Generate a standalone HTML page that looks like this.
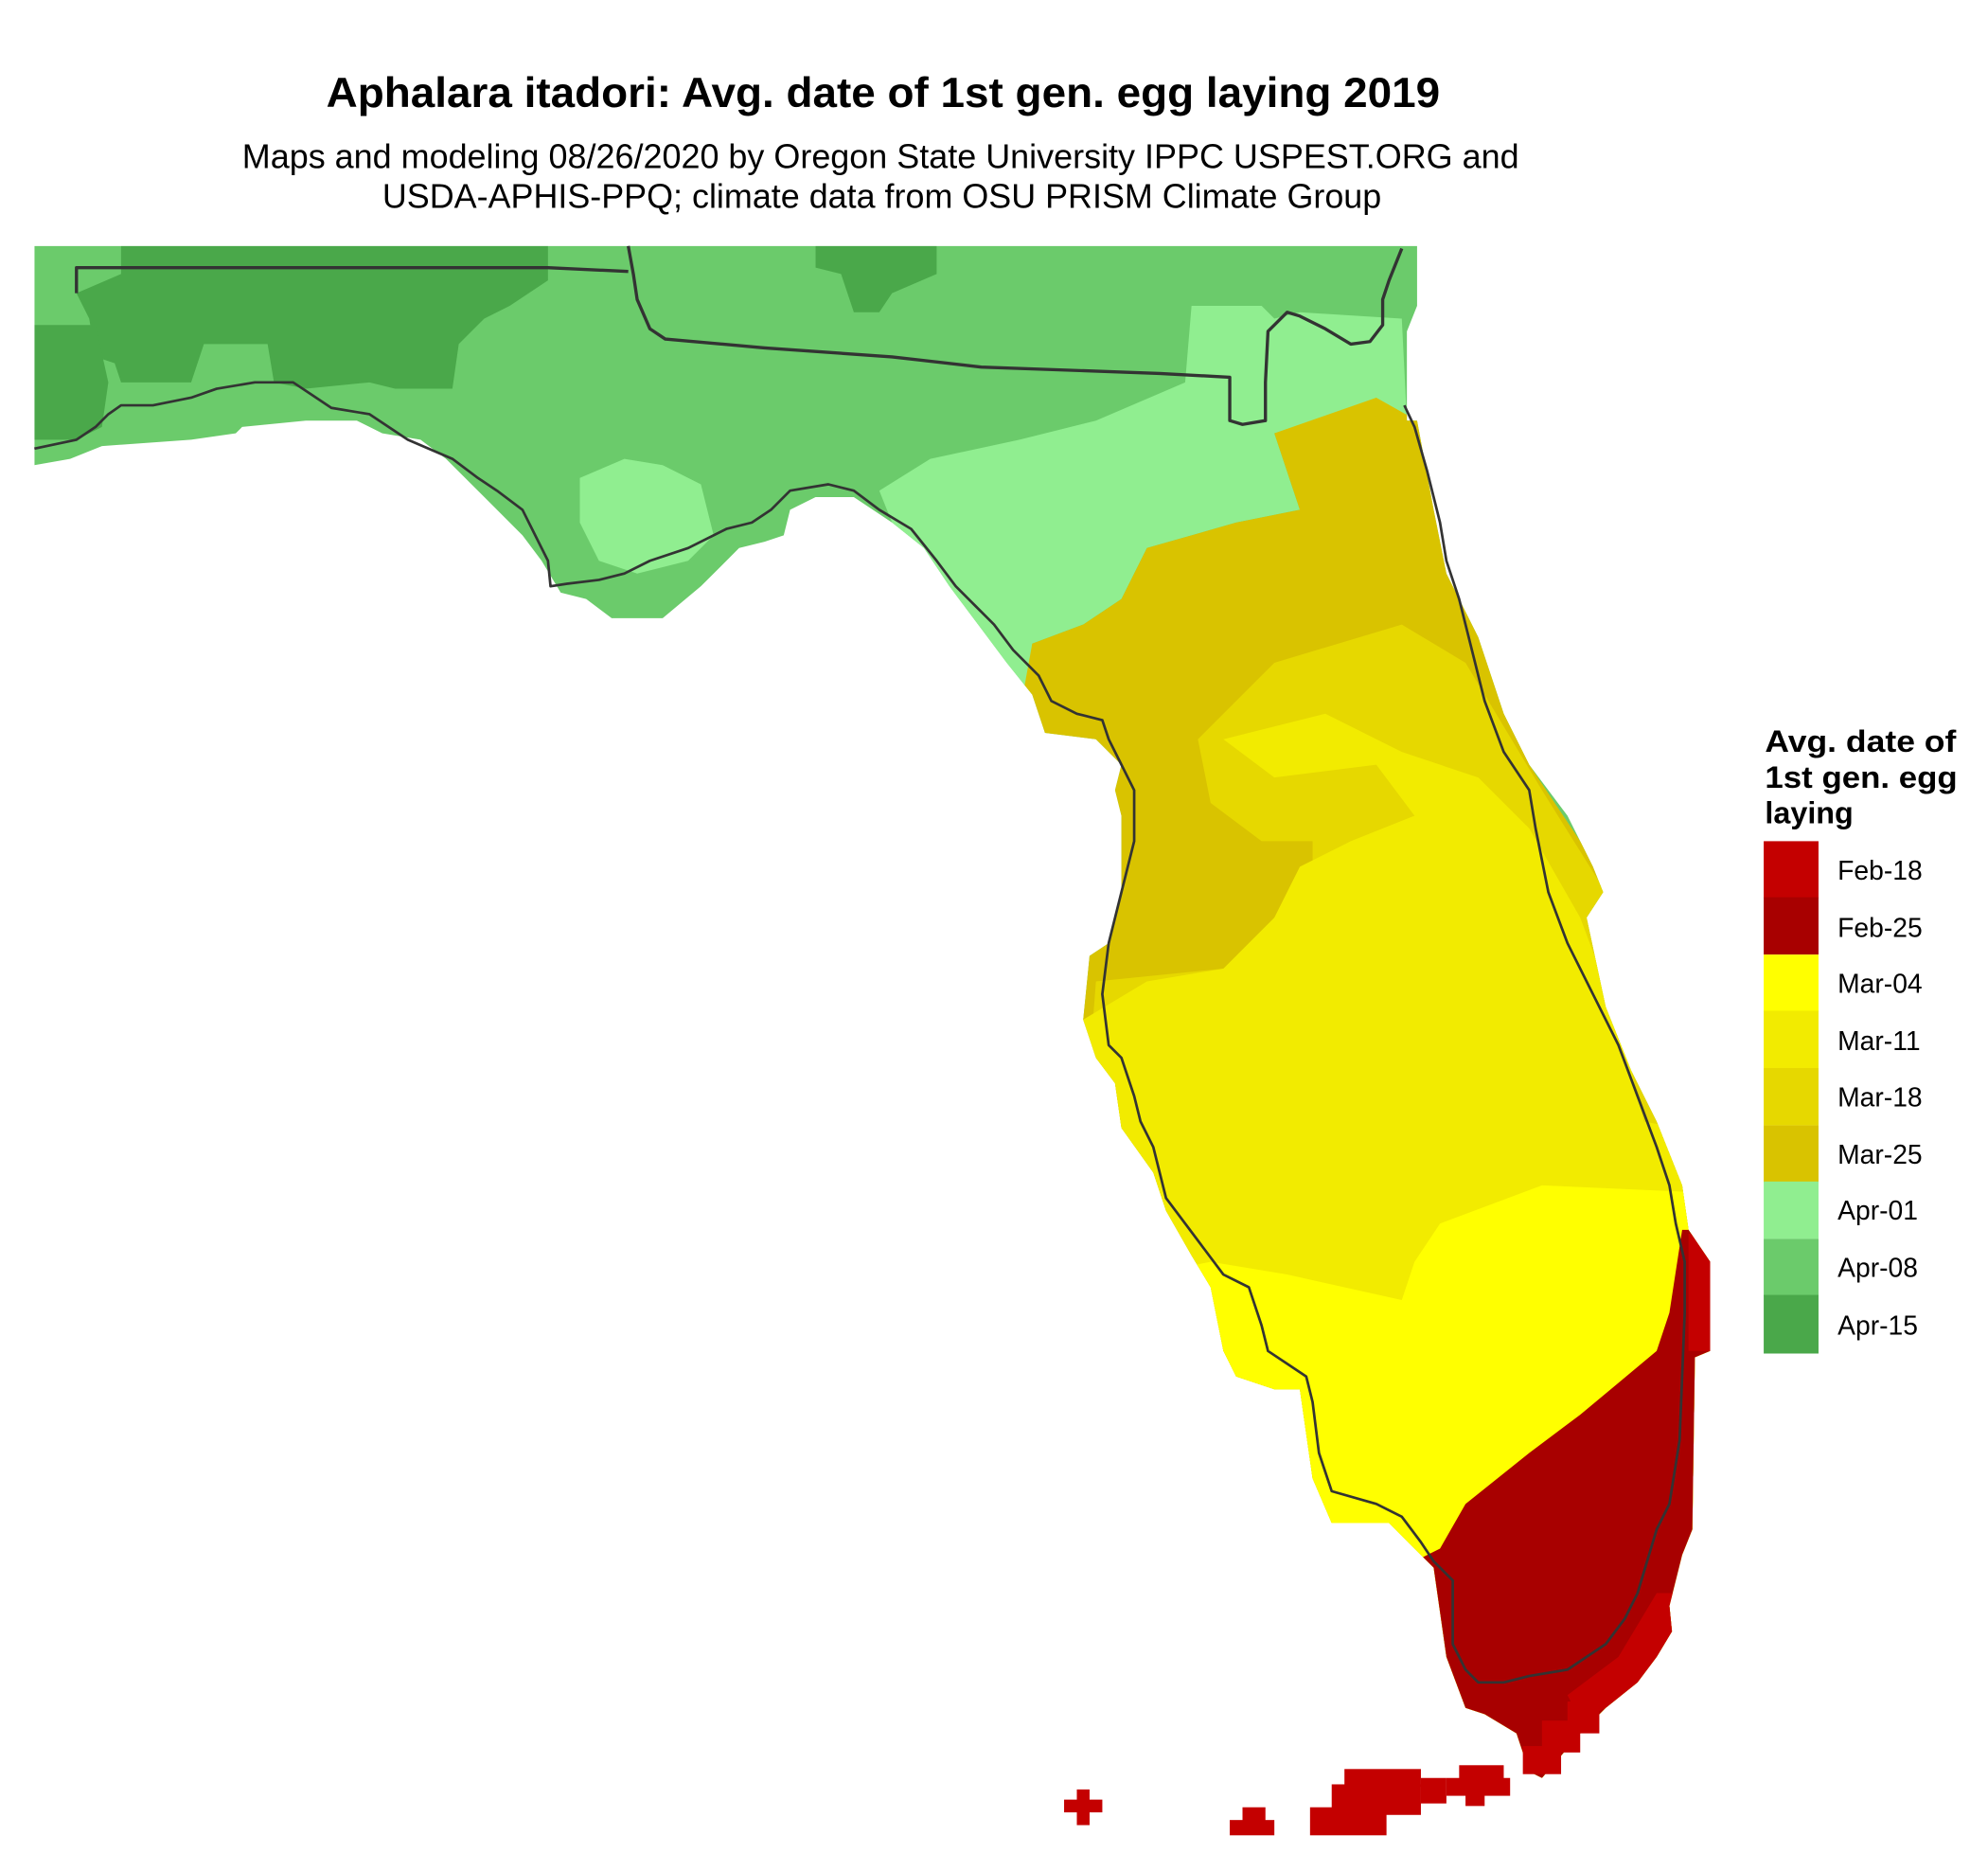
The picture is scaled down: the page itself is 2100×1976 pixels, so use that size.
<!DOCTYPE html>
<html><head><meta charset="utf-8"><style>
html,body{margin:0;padding:0;background:#fff;}
svg{display:block;}
</style></head><body>
<svg width="2100" height="1976" viewBox="0 0 1560 1468" preserveAspectRatio="none" xmlns="http://www.w3.org/2000/svg" font-family="Liberation Sans, Arial, sans-serif">
<defs>
<clipPath id="land">
<polygon points="27,193 1112,193 1112,240 1104,260 1104,330 1112,330 1125,400 1135,450 1160,500 1180,560 1200,600 1230,640 1250,680 1258,700 1245,720 1260,790 1280,840 1300,880 1320,930 1325,965 1342,990 1342,1060 1330,1065 1328,1200 1320,1220 1310,1260 1312,1280 1300,1300 1285,1320 1260,1340 1240,1360 1210,1395 1200,1390 1190,1360 1165,1345 1150,1340 1135,1300 1125,1230 1110,1215 1090,1195 1045,1195 1030,1160 1020,1090 1000,1090 970,1080 960,1060 950,1010 935,985 915,950 905,920 880,885 875,850 860,830 850,800 855,750 870,740 880,700 880,640 875,620 880,600 860,580 820,575 810,545 790,520 775,500 760,480 745,460 725,430 700,410 670,390 640,390 620,400 615,420 600,425 580,430 550,460 520,485 480,485 460,470 440,465 425,440 410,420 390,400 370,380 350,360 330,345 300,340 280,330 240,330 190,335 185,340 150,345 80,350 55,360 27,365"/>
</clipPath>
</defs>
<text x="693" y="84" font-size="33" font-weight="bold" text-anchor="middle" fill="#000" textLength="874" lengthAdjust="spacingAndGlyphs">Aphalara itadori: Avg. date of 1st gen. egg laying 2019</text>
<text x="691" y="132" font-size="26.5" text-anchor="middle" fill="#000" textLength="1002" lengthAdjust="spacingAndGlyphs">Maps and modeling 08/26/2020 by Oregon State University IPPC USPEST.ORG and</text>
<text x="692" y="163" font-size="26.5" text-anchor="middle" fill="#000" textLength="784" lengthAdjust="spacingAndGlyphs">USDA-APHIS-PPQ; climate data from OSU PRISM Climate Group</text>

<g clip-path="url(#land)">
<rect x="0" y="180" width="1400" height="1300" fill="#6BCB6B"/>
<polygon fill="#4AA84A" points="95,193 430,193 430,220 400,240 380,250 360,270 355,305 310,305 290,300 240,305 215,300 210,270 160,270 150,300 95,300 90,285 75,280 70,250 60,230 95,215"/>
<polygon fill="#4AA84A" points="27,255 75,255 85,300 80,335 60,345 27,345"/>
<polygon fill="#4AA84A" points="640,193 735,193 735,215 700,230 690,245 670,245 660,215 640,210"/>
<polygon fill="#90EE90" points="935,240 990,240 1000,250 1020,245 1100,250 1104,330 1085,315 1000,340 1020,400 970,410 900,430 880,470 850,490 810,505 810,545 790,540 775,500 760,480 745,460 725,430 700,410 690,385 730,360 800,345 860,330 930,300"/>
<polygon fill="#90EE90" points="455,375 490,360 520,365 550,380 560,420 540,440 500,450 470,440 455,410"/>
<polygon fill="#D9C300" points="1000,340 1080,312 1112,330 1200,600 1400,900 1400,1400 800,1400 800,560 810,505 850,490 880,470 900,430 970,410 1020,400"/>
<polygon fill="#E6D800" points="1000,520 1100,490 1150,520 1180,570 1210,620 1260,700 1400,900 1400,1400 800,1400 850,900 860,770 960,760 990,740 1030,700 1030,660 990,660 950,630 940,580"/>
<polygon fill="#F2EB00" points="960,580 1040,560 1100,590 1160,610 1200,650 1240,720 1270,800 1290,880 1400,900 1400,1400 800,1400 850,800 900,770 960,760 1000,720 1020,680 1060,660 1110,640 1080,600 1000,610"/>
<polygon fill="#FFFF00" points="1130,960 1210,930 1320,935 1400,940 1400,1400 800,1400 900,1000 950,990 1010,1000 1100,1020 1110,990"/>
<polygon fill="#A80000" points="1320,965 1400,965 1400,1400 1100,1400 1100,1230 1130,1215 1150,1180 1200,1140 1240,1110 1270,1085 1300,1060 1310,1030"/>
<polygon fill="#C40000" points="1325,968 1342,968 1342,1060 1325,1060"/>
<polygon fill="#C40000" points="1300,1250 1330,1250 1330,1290 1300,1310 1270,1335 1240,1350 1230,1330 1270,1300"/>
</g>
<g fill="#C40000">
<rect x="835" y="1412" width="30" height="10"/><rect x="845" y="1404" width="10" height="28"/>
<rect x="965" y="1428" width="35" height="12"/><rect x="975" y="1418" width="18" height="12"/>
<rect x="1028" y="1418" width="60" height="22"/><rect x="1045" y="1400" width="70" height="24"/><rect x="1055" y="1388" width="60" height="14"/><rect x="1115" y="1395" width="20" height="20"/>
<rect x="1135" y="1395" width="50" height="14"/><rect x="1145" y="1385" width="35" height="12"/><rect x="1150" y="1405" width="15" height="12"/>
<rect x="1195" y="1370" width="30" height="22"/><rect x="1210" y="1350" width="30" height="25"/><rect x="1230" y="1335" width="25" height="25"/>
</g>
<g fill="none" stroke="#333" stroke-width="2.5" stroke-linejoin="round">
<polyline points="60,230 60,210 430,210 493,213"/>
<polyline points="493,193 497,215 500,235 510,258 522,266 600,273 700,280 770,288 910,293 965,296 965,330 975,333 993,330 993,300 995,260 1010,245 1020,248 1040,258 1060,270 1075,268 1085,255 1085,235 1090,220 1100,195"/>
</g>
<polyline fill="none" stroke="#333" stroke-width="2" stroke-linejoin="round" points="27,352 60,345 75,335 85,325 95,318 120,318 150,312 170,305 200,300 230,300 245,310 260,320 290,325 320,345 355,360 375,375 390,385 410,400 420,420 430,440 432,460 445,458 470,455 490,450 510,440 540,430 570,415 590,410 605,400 620,385 650,380 670,385 690,400 715,415 735,440 750,460 765,475 780,490 795,510 815,530 825,550 845,560 865,565 870,580 880,600 890,620 890,660 880,700 870,740 865,780 870,820 880,830 890,860 895,880 905,900 915,940 930,960 945,980 960,1000 980,1010 990,1040 995,1060 1010,1070 1025,1080 1030,1100 1035,1140 1045,1170 1080,1180 1100,1190 1115,1210 1125,1225 1140,1240 1140,1290 1150,1310 1160,1320 1180,1320 1200,1315 1230,1310 1260,1290 1275,1270 1285,1250 1300,1200 1310,1180 1318,1130 1320,1080 1322,1030 1322,990 1315,960 1310,930 1300,900 1285,860 1270,820 1250,780 1230,740 1215,700 1205,650 1200,620 1180,590 1165,550 1155,510 1145,470 1135,440 1130,410 1120,370 1110,335 1102,318"/>

<g font-size="24" font-weight="bold">
<text x="1385" y="590" textLength="150" lengthAdjust="spacingAndGlyphs">Avg. date of</text>
<text x="1385" y="618" textLength="151" lengthAdjust="spacingAndGlyphs">1st gen. egg</text>
<text x="1385" y="646">laying</text>
</g>
<rect x="1384" y="660" width="43" height="45" fill="#C40000"/>
<rect x="1384" y="704" width="43" height="45" fill="#A80000"/>
<rect x="1384" y="749" width="43" height="45" fill="#FFFF00"/>
<rect x="1384" y="793" width="43" height="45" fill="#F2EB00"/>
<rect x="1384" y="838" width="43" height="45" fill="#E6D800"/>
<rect x="1384" y="883" width="43" height="45" fill="#D9C300"/>
<rect x="1384" y="927" width="43" height="45" fill="#90EE90"/>
<rect x="1384" y="972" width="43" height="45" fill="#6BCB6B"/>
<rect x="1384" y="1016" width="43" height="46" fill="#4AA84A"/>
<g font-size="21" fill="#000">
<text x="1442" y="690">Feb-18</text>
<text x="1442" y="735">Feb-25</text>
<text x="1442" y="779">Mar-04</text>
<text x="1442" y="824">Mar-11</text>
<text x="1442" y="868">Mar-18</text>
<text x="1442" y="913">Mar-25</text>
<text x="1442" y="957">Apr-01</text>
<text x="1442" y="1002">Apr-08</text>
<text x="1442" y="1047">Apr-15</text>
</g>
</svg>
</body></html>
